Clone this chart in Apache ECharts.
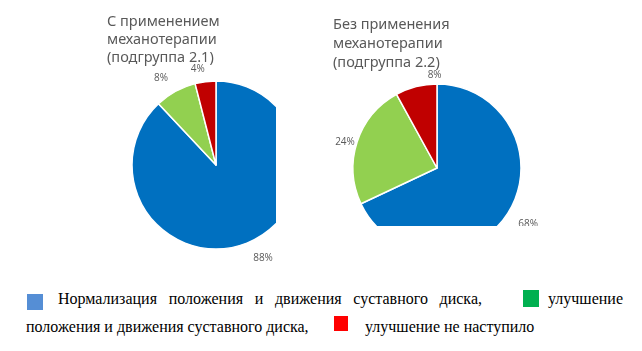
<!DOCTYPE html>
<html lang="ru">
<head>
<meta charset="UTF-8">
<title>Механотерапия</title>
<script src="https://cdn.jsdelivr.net/npm/echarts@6/dist/echarts.min.js"></script>
<style>
    html, body { margin: 0; padding: 0; background: #fff; }
    body { width: 642px; height: 351px; position: relative; overflow: hidden; }
    /* the word picture is cropped: left pie on the right, right pie at the bottom */
    #pie1 { position: absolute; left: 0; top: 0; width: 276px; height: 270px; overflow: hidden; }
    #pie2 { position: absolute; left: 276px; top: 0; width: 366px; height: 226px; overflow: hidden; }
    .legend { position: absolute; font-family: "Liberation Serif", "DejaVu Serif", serif; font-size: 16px; color: #000; white-space: nowrap; line-height: 18px; }
    .sq { position: absolute; width: 16px; height: 16px; }
    #line1 { left: 58px; top: 290px; width: 424px; text-align: justify; text-align-last: justify; }
</style>
</head>
<body>
<div id="pie1"></div>
<div id="pie2"></div>

<div class="sq" style="left:27px;top:294px;background:#558ed5"></div>
<div class="legend" id="line1">Нормализация положения и движения суставного диска,</div>
<div class="sq" style="left:523px;top:290px;width:16px;height:17px;background:#00b050"></div>
<div class="legend" style="left:548px;top:290px">улучшение</div>
<div class="legend" style="left:26px;top:318px">положения и движения суставного диска,</div>
<div class="sq" style="left:334px;top:316px;width:14px;height:15px;background:#ff0000"></div>
<div class="legend" style="left:365px;top:318px">улучшение не наступило</div>

<script>
    var categories = ['Нормализация', 'Улучшение', 'Не наступило'];
    var withMechano = [88, 8, 4];       // подгруппа 2.1
    var withoutMechano = [68, 24, 8];   // подгруппа 2.2
    var sliceColors = ['#0070c0', '#92d050', '#c00000'];

    function toData(values, offsets) {
        return values.map(function (v, i) {
            var d = { name: categories[i], value: v };
            if (offsets) d.label = { offset: offsets[i] };
            return d;
        });
    }

    function pieOption(title, titleLeft, titleTop, lineH, center, values, labelRing, offsets) {
        return {
            animation: false,
            color: sliceColors,
            title: {
                text: title,
                left: titleLeft,
                top: titleTop,
                padding: 0,
                textStyle: {
                    fontFamily: 'Noto Sans',
                    fontWeight: 'normal',
                    fontSize: 14.5,
                    lineHeight: lineH,
                    color: '#595959'
                }
            },
            series: [{
                type: 'pie',
                center: center,
                radius: 84,
                startAngle: 90,
                clockwise: true,
                silent: true,
                label: { show: false },
                labelLine: { show: false },
                itemStyle: { borderColor: '#fff', borderWidth: 1.5 },
                data: toData(values)
            }, {
                // invisible ring only carries the percent labels
                type: 'pie',
                center: center,
                radius: labelRing,
                startAngle: 90,
                clockwise: true,
                silent: true,
                itemStyle: { color: 'rgba(0,0,0,0)' },
                label: {
                    show: true,
                    position: 'inside',
                    formatter: '{c}%',
                    fontFamily: 'Open Sans',
                    fontSize: 10,
                    color: '#595959'
                },
                labelLine: { show: false },
                data: toData(values, offsets)
            }]
        };
    }

    var chart1 = echarts.init(document.getElementById('pie1'));
    chart1.setOption(pieOption('С применением\nмеханотерапии\n(подгруппа 2.1)', 107, 13, 18,
        [216, 165], withMechano, [92, 114], [[8, -5], [-4, 6], [-5, 9]]));

    var chart2 = echarts.init(document.getElementById('pie2'));
    chart2.setOption(pieOption('Без применения\nмеханотерапии\n(подгруппа 2.2)', 57, 15, 19,
        [161, 168], withoutMechano, [88, 110], [[5, 2], [5, 6], [23, 6]]));
</script>
</body>
</html>
